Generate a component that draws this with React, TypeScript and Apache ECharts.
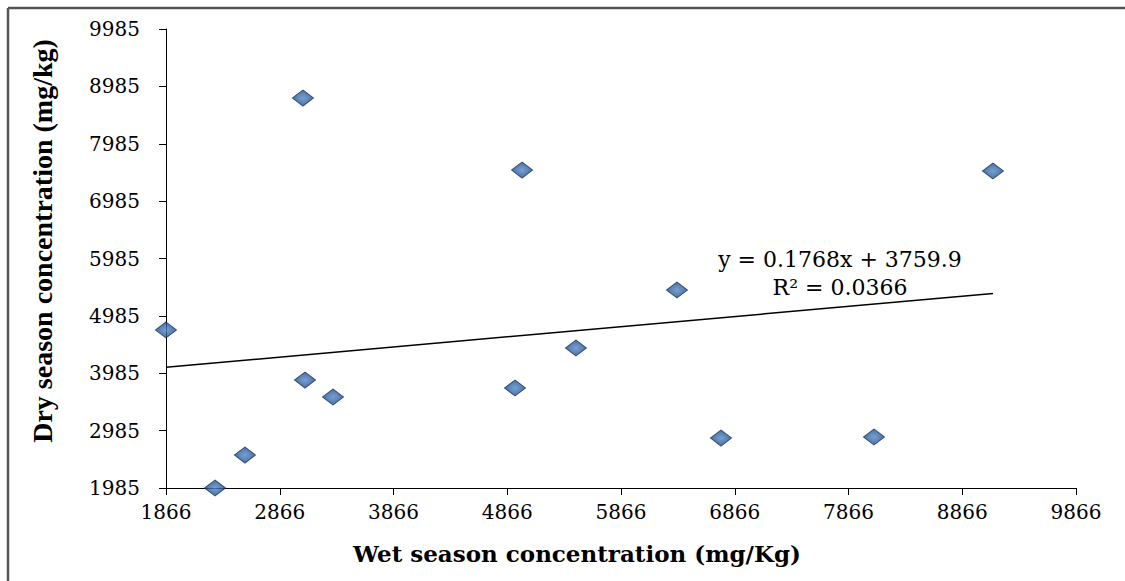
import React, { useEffect, useRef } from "react";
import * as echarts from "echarts";

const wetSeason = [1866, 2297, 2560, 3070, 3088, 3334, 4934, 4996, 5470, 6358, 6745, 8090, 9136];
const drySeason = [4739, 1985, 2560, 8782, 3867, 3571, 3728, 7527, 4425, 5436, 2856, 2874, 7510];
const trendX = [1866, 9136];
const trendY = [4090, 5375];
const equationLines = ["y = 0.1768x + 3759.9", "R² = 0.0366"];
const xTitle = "Wet season concentration (mg/Kg)";
const yTitle = "Dry season concentration (mg/kg)";

export default function App() {
  const ref = useRef<HTMLDivElement>(null);
  useEffect(() => {
    if (!ref.current) return;
    const chart = echarts.init(ref.current, null, { renderer: "svg" });
    const points = wetSeason.map((x, i) => [x, drySeason[i]]);
    const trend = trendX.map((x, i) => [x, trendY[i]]);
    const tickFont = { fontFamily: "DejaVu Serif", fontSize: 20, color: "#000", formatter: (v: number) => String(v) };
    chart.setOption({
      animation: false,
      backgroundColor: "#fff",
      grid: { left: 166, top: 29, right: 49, bottom: 93 },
      xAxis: {
        type: "value",
        min: 1866,
        max: 9866,
        interval: 1000,
        axisLine: { show: true, lineStyle: { color: "#000", width: 1 } },
        axisTick: { show: true, length: 7, lineStyle: { color: "#000" } },
        axisLabel: { ...tickFont, margin: 14 },
        splitLine: { show: false },
      },
      yAxis: {
        type: "value",
        min: 1985,
        max: 9985,
        interval: 1000,
        axisLine: { show: true, lineStyle: { color: "#000", width: 1 } },
        axisTick: { show: true, length: 7, lineStyle: { color: "#000" } },
        axisLabel: { ...tickFont, margin: 26 },
        splitLine: { show: false },
      },
      graphic: [
        { type: "line", shape: { x1: 8, y1: 8, x2: 1125, y2: 8 }, style: { stroke: "#555", lineWidth: 2.5 } },
        { type: "line", shape: { x1: 8, y1: 8, x2: 8, y2: 581 }, style: { stroke: "#555", lineWidth: 2.5 } },
        {
          type: "text",
          x: 577,
          y: 553,
          style: { text: xTitle, font: "bold 23px 'DejaVu Serif'", fill: "#000", textAlign: "center", textVerticalAlign: "middle" },
        },
        {
          type: "text",
          x: 42,
          y: 241,
          rotation: Math.PI / 2,
          style: { text: yTitle, font: "bold 28px 'Liberation Serif'", fill: "#000", textAlign: "center", textVerticalAlign: "middle" },
        },
        {
          type: "text",
          x: 840,
          y: 259,
          style: { text: equationLines[0], font: "22px 'DejaVu Serif'", fill: "#000", textAlign: "center", textVerticalAlign: "middle" },
        },
        {
          type: "text",
          x: 840,
          y: 287,
          style: { text: equationLines[1], font: "22px 'DejaVu Serif'", fill: "#000", textAlign: "center", textVerticalAlign: "middle" },
        },
      ],
      series: [
        {
          type: "line",
          data: trend,
          symbol: "none",
          lineStyle: { color: "#000", width: 1.5 },
          z: 1,
        },
        {
          type: "scatter",
          data: points,
          symbol: "diamond",
          symbolSize: [21, 16],
          itemStyle: {
            color: {
              type: "radial",
              x: 0.5,
              y: 0.5,
              r: 0.5,
              colorStops: [
                { offset: 0, color: "#5388c8" },
                { offset: 1, color: "#1f4c88" },
              ],
            },
            borderColor: "#142f5c",
            borderWidth: 1,
          },
          z: 3,
        },
      ],
    });
    return () => chart.dispose();
  }, []);
  return <div ref={ref} style={{ position: "fixed", left: 0, top: 0, width: 1125, height: 581 }} />;
}
